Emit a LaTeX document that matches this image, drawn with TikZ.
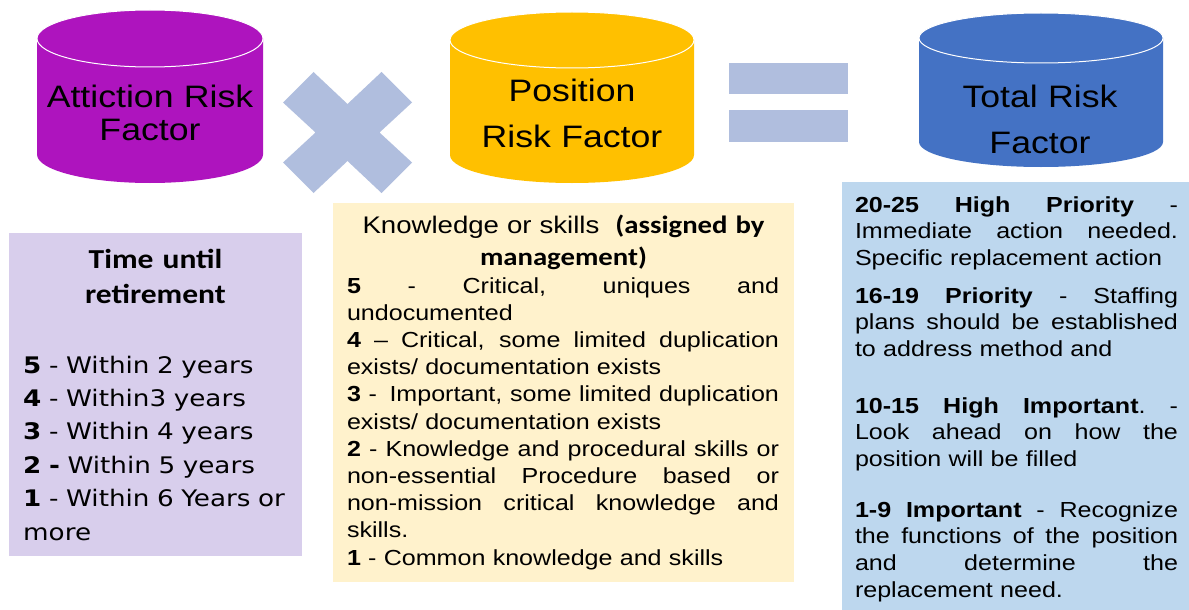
\documentclass[tikz,border=0pt]{standalone}
\usepackage{fontspec}
\setmainfont[FakeStretch=1.15]{Liberation Sans}
\newfontfamily\calibrifont[FakeStretch=1.15]{Carlito}
\newfontfamily\dejavufont[FakeStretch=1.15]{DejaVu Sans}
\definecolor{purp}{RGB}{174,20,190}
\definecolor{gold}{RGB}{255,192,0}
\definecolor{tblue}{RGB}{68,114,196}
\definecolor{opc}{RGB}{176,190,222}
\definecolor{lav}{RGB}{216,206,236}
\definecolor{cream}{RGB}{255,242,204}
\definecolor{sky}{RGB}{189,215,238}
\newcommand\JLine[2][432pt]{\leavevmode\hbox to #1{\spaceskip=\fontdimen2\font plus 1fil\relax\xspaceskip=\spaceskip #2}}
\begin{document}
\begin{tikzpicture}[x=1pt,y=-1pt,
  cyltext/.style={inner sep=0pt, outer sep=0pt, anchor=base, text width=230pt, align=center, font=\fontsize{31}{33}\selectfont},
  bodytext/.style={inner sep=0pt, outer sep=0pt, anchor=base west, align=left, font=\fontsize{21.8}{27.2}\selectfont},
  seam/.style={white, line width=1pt}]
\useasboundingbox (0,0) rectangle (1189,610);
\fill[white] (0,0) rectangle (1189,610);

% cylinders
\fill[purp] (37,38.5) -- (37,154.5) arc[start angle=180,end angle=0,x radius=113,y radius=28.5] -- (263,38.5) arc[start angle=0,end angle=-180,x radius=113,y radius=28.5] -- cycle;
\draw[seam] (150,38.5) ellipse[x radius=113,y radius=28.5];
\fill[gold] (450,40) -- (450,155) arc[start angle=180,end angle=0,x radius=122,y radius=28] -- (694,40) arc[start angle=0,end angle=-180,x radius=122,y radius=28] -- cycle;
\draw[seam] (572,40) ellipse[x radius=122,y radius=28];
\fill[tblue] (919,38) -- (919,142) arc[start angle=180,end angle=0,x radius=122,y radius=25] -- (1163,38) arc[start angle=0,end angle=-180,x radius=122,y radius=25] -- cycle;
\draw[seam] (1041,38) ellipse[x radius=122,y radius=25];

\node[cyltext] (attr) at (150,107) {Attiction Risk\\Factor};
\node[cyltext, font=\fontsize{31}{46}\selectfont] (pos) at (572,102) {Position\\Risk Factor};
\node[cyltext, font=\fontsize{31}{46}\selectfont] (tot) at (1040,107) {Total Risk\\Factor};

% times sign
\begin{scope}[shift={(347.5,132.5)}]
\fill[opc] (-34,-60.5) -- (0,-28.5) -- (34,-60.5) -- (64.5,-30) -- (32,0) -- (64.5,30) -- (34,60.5) -- (0,28.5) -- (-34,60.5) -- (-64.5,30) -- (-32,0) -- (-64.5,-30) -- cycle;
\end{scope}
% equals sign
\fill[opc] (729,63) rectangle (848,94);
\fill[opc] (729,110) rectangle (848,142);

% boxes
\fill[lav] (9,233) rectangle (302,556);
\fill[cream] (333,203) rectangle (794,582);
\fill[sky] (842,182) rectangle (1189,610);

% purple box text
\node[inner sep=0pt, anchor=base, text width=293pt, align=center, font=\calibrifont\bfseries\fontsize{27.4}{35}\selectfont] (ttitle) at (155.5,268) {Time until\\retirement};
\node[inner sep=0pt, anchor=base west, text width=279pt, align=left, font=\dejavufont\fontsize{22.8}{33.4}\selectfont] (tlist) at (23,373)
 {{\bfseries 5} - Within 2 years\\
  {\bfseries 4} - Within3 years\\
  {\bfseries 3} - Within 4 years\\
  {\bfseries 2 -} Within 5 years\\
  {\bfseries 1} - Within 6 Years or\\
  more};

% yellow box text
\node[inner sep=0pt, anchor=base, text width=461pt, align=center, font=\fontsize{24}{32}\selectfont] (ktitle) at (563.5,233)
 {Knowledge or skills\ \ {\calibrifont\bfseries\fontsize{25}{32}\selectfont (assigned by}\\
  {\calibrifont\bfseries\fontsize{25}{32}\selectfont management)}};
\node[bodytext, text width=432pt] (klist) at (347,293)
 {\JLine{\textbf{5} - Critical, uniques and}\\
  undocumented\\
  \JLine{\textbf{4} -- Critical, some limited duplication}\\
  exists/ documentation exists\\
  \JLine{\textbf{3} - \kern5pt Important, some limited duplication}\\
  exists/ documentation exists\\
  \JLine{\textbf{2} - Knowledge and procedural skills or}\\
  \JLine{non-essential Procedure based or}\\
  \JLine{non-mission critical knowledge and}\\
  skills.\\
  \textbf{1} - Common knowledge and skills};

% blue box text
\node[bodytext, text width=323pt, font=\fontsize{21.8}{26.8}\selectfont] (p1) at (855,212)
 {\JLine[323pt]{\textbf{20-25 High Priority} -}\\
  \JLine[323pt]{Immediate action needed.}\\
  Specific replacement action};
\node[bodytext, text width=323pt, font=\fontsize{21.8}{26.8}\selectfont] (p2) at (855,303)
 {\JLine[323pt]{\textbf{16-19 Priority} - Staffing}\\
  \JLine[323pt]{plans should be established}\\
  to address method and};
\node[bodytext, text width=323pt, font=\fontsize{21.8}{26.8}\selectfont] (p3) at (855,413)
 {\JLine[323pt]{\textbf{10-15 High Important}. -}\\
  \JLine[323pt]{Look ahead on how the}\\
  position will be filled};
\node[bodytext, text width=323pt, font=\fontsize{21.8}{26.8}\selectfont] (p4) at (855,517)
 {\JLine[323pt]{\textbf{1-9 Important} - Recognize}\\
  \JLine[323pt]{the functions of the position}\\
  \JLine[323pt]{and determine the}\\
  replacement need.};
\end{tikzpicture}
\end{document}
